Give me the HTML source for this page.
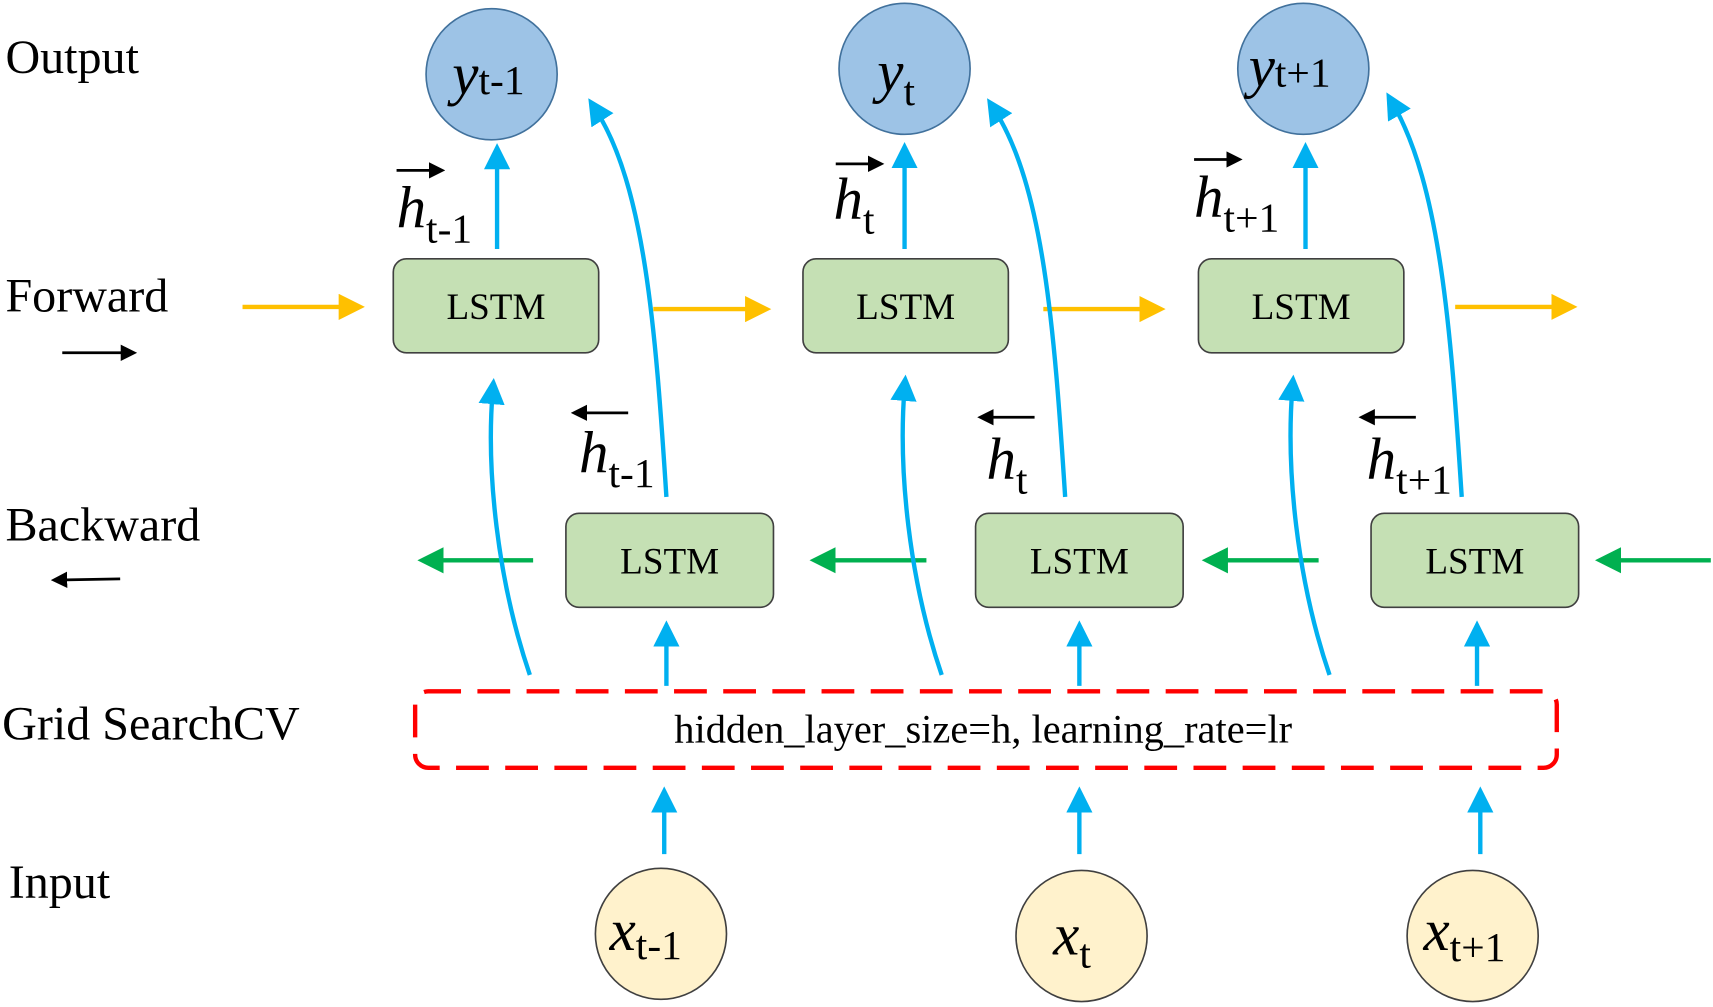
<!DOCTYPE html>
<html><head><meta charset="utf-8"><style>html,body{margin:0;padding:0;background:#fff}svg{display:block}</style></head>
<body>
<svg width="1713" height="1007" viewBox="0 0 1568 922" preserveAspectRatio="none" xmlns="http://www.w3.org/2000/svg" font-family="Liberation Serif, serif">
<defs>
<marker id="b" markerWidth="6" markerHeight="6" refX="3" refY="3" orient="auto" markerUnits="strokeWidth"><path d="M0,0 L6,3 L0,6 z" fill="#00b0f0"/></marker>
<marker id="o" markerWidth="6" markerHeight="6" refX="3" refY="3" orient="auto" markerUnits="strokeWidth"><path d="M0,0 L6,3 L0,6 z" fill="#ffc000"/></marker>
<marker id="g" markerWidth="6" markerHeight="6" refX="3" refY="3" orient="auto" markerUnits="strokeWidth"><path d="M0,0 L6,3 L0,6 z" fill="#00b050"/></marker>
<marker id="k" markerWidth="6" markerHeight="6" refX="3" refY="3" orient="auto" markerUnits="strokeWidth"><path d="M0,0 L6,3 L0,6 z" fill="#000"/></marker>
</defs>
<g font-size="44" fill="#000">
<text x="5" y="67">Output</text>
<text x="5" y="285">Forward</text>
<text x="5" y="495">Backward</text>
<text x="2" y="677">Grid SearchCV</text>
<text x="8" y="822">Input</text>
</g>
<line x1="57" y1="323" x2="118" y2="323" stroke="#000" stroke-width="2.5" marker-end="url(#k)"/>
<line x1="110" y1="530" x2="54" y2="531" stroke="#000" stroke-width="2.5" marker-end="url(#k)"/>
<g stroke="#ffc000" stroke-width="4" marker-end="url(#o)">
<line x1="222" y1="281" x2="322" y2="281"/><line x1="598" y1="283" x2="694" y2="283"/><line x1="955" y1="283" x2="1055" y2="283"/><line x1="1332" y1="281" x2="1432" y2="281"/>
</g>
<g stroke="#00b050" stroke-width="4" marker-end="url(#g)">
<line x1="488" y1="513" x2="394" y2="513"/><line x1="848" y1="513" x2="753" y2="513"/><line x1="1207" y1="513" x2="1112" y2="513"/><line x1="1566" y1="513" x2="1472" y2="513"/>
</g>
<g fill="#c5e0b4" stroke="#404040" stroke-width="1.5">
<rect x="360" y="237" width="188" height="86" rx="12"/><rect x="735" y="237" width="188" height="86" rx="12"/><rect x="1097" y="237" width="188" height="86" rx="12"/>
<rect x="518" y="470" width="190" height="86" rx="12"/><rect x="893" y="470" width="190" height="86" rx="12"/><rect x="1255" y="470" width="190" height="86" rx="12"/>
</g>
<g font-size="34" text-anchor="middle">
<text x="454" y="292">LSTM</text><text x="829" y="292">LSTM</text><text x="1191" y="292">LSTM</text>
<text x="613" y="525">LSTM</text><text x="988" y="525">LSTM</text><text x="1350" y="525">LSTM</text>
</g>
<g stroke="#00b0f0" stroke-width="4" fill="none" marker-end="url(#b)">
<line x1="455" y1="228" x2="455" y2="143"/><line x1="828" y1="228" x2="828" y2="142"/><line x1="1195" y1="228" x2="1195" y2="142"/>
<path d="M610,455 C600,300 590,170 545,100"/><path d="M975,455 C965,300 955,170 910,100"/><path d="M1338,455 C1328,300 1318,170 1275,95"/>
<path d="M485,618 C455,530 445,430 451,358"/><path d="M862,618 C832,530 822,430 828,355"/><path d="M1217,618 C1187,530 1177,430 1183,355"/>
<line x1="610" y1="628" x2="610" y2="580"/><line x1="988" y1="628" x2="988" y2="580"/><line x1="1352" y1="628" x2="1352" y2="580"/>
<line x1="608" y1="782" x2="608" y2="732"/><line x1="988" y1="782" x2="988" y2="732"/><line x1="1355" y1="782" x2="1355" y2="732"/>
</g>
<rect x="380" y="633" width="1045" height="70" rx="12" fill="none" stroke="#ff0000" stroke-width="4" stroke-dasharray="30,15"/>
<text x="900" y="680" font-size="37" text-anchor="middle">hidden_layer_size=h, learning_rate=lr</text>
<g fill="#9dc3e6" stroke="#41719c" stroke-width="1.5">
<circle cx="450" cy="68" r="60"/><circle cx="828" cy="63" r="60"/><circle cx="1193" cy="63" r="60"/>
</g>
<g fill="#fff2cc" stroke="#404040" stroke-width="1.5">
<circle cx="605" cy="855" r="60"/><circle cx="990" cy="857" r="60"/><circle cx="1348" cy="857" r="60"/>
</g>
<g font-size="54">
<text x="414" y="86"><tspan font-style="italic">y</tspan><tspan font-size="38">t-1</tspan></text>
<text x="803" y="84"><tspan font-style="italic">y</tspan><tspan font-size="38" dy="12">t</tspan></text>
<text x="1143" y="79"><tspan font-style="italic">y</tspan><tspan font-size="38">t+1</tspan></text>
<text x="558" y="870"><tspan font-style="italic">x</tspan><tspan font-size="38" dy="8">t-1</tspan></text>
<text x="964" y="874"><tspan font-style="italic">x</tspan><tspan font-size="38" dy="12">t</tspan></text>
<text x="1303" y="870"><tspan font-style="italic">x</tspan><tspan font-size="38" dy="10">t+1</tspan></text>
<text x="363" y="208"><tspan font-style="italic">h</tspan><tspan font-size="38" dy="14">t-1</tspan></text>
<text x="763" y="200"><tspan font-style="italic">h</tspan><tspan font-size="38" dy="14">t</tspan></text>
<text x="1093" y="198"><tspan font-style="italic">h</tspan><tspan font-size="38" dy="14">t+1</tspan></text>
<text x="530" y="432"><tspan font-style="italic">h</tspan><tspan font-size="38" dy="14">t-1</tspan></text>
<text x="903" y="438"><tspan font-style="italic">h</tspan><tspan font-size="38" dy="14">t</tspan></text>
<text x="1251" y="438"><tspan font-style="italic">h</tspan><tspan font-size="38" dy="14">t+1</tspan></text>
</g>
<g stroke="#000" stroke-width="2.5" marker-end="url(#k)">
<line x1="363" y1="156" x2="400" y2="156"/><line x1="765" y1="150" x2="802" y2="150"/><line x1="1093" y1="146" x2="1130" y2="146"/>
</g>
<g stroke="#000" stroke-width="2.5" marker-end="url(#k)">
<line x1="575" y1="378" x2="530" y2="378"/><line x1="947" y1="382" x2="902" y2="382"/><line x1="1296" y1="382" x2="1251" y2="382"/>
</g>
</svg>
</body></html>
